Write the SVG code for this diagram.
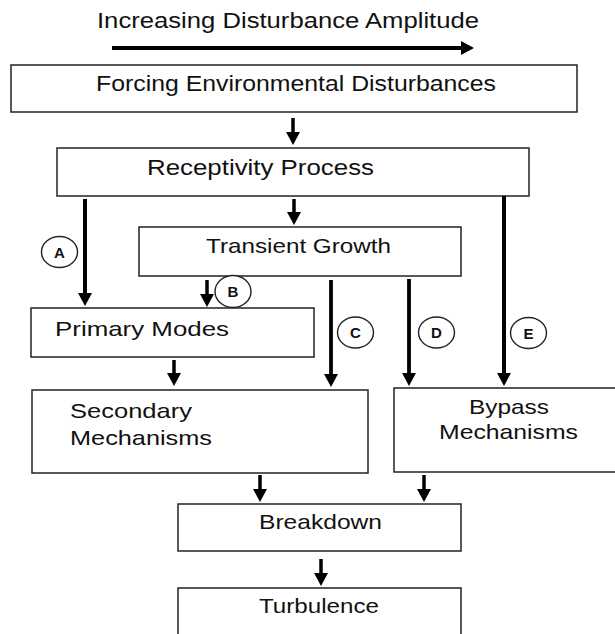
<svg xmlns="http://www.w3.org/2000/svg" width="615" height="634" viewBox="0 0 615 634">
<style>
.box{fill:#fff;stroke:#222;stroke-width:1.5}
.t{font-family:"Liberation Sans",Arial,sans-serif;font-size:21px;fill:#111}
.big{font-size:22px}
.ar{stroke:#000;stroke-width:3.5;fill:none;marker-end:url(#ah)}
.lb{fill:#fff;stroke:#222;stroke-width:1.4}
.lt{font-family:"Liberation Sans",Arial,sans-serif;font-size:15px;font-weight:bold;fill:#111;text-anchor:middle}
</style>
<defs>
<marker id="ah" markerUnits="userSpaceOnUse" markerWidth="15" markerHeight="15" refX="1" refY="7" orient="auto">
<path d="M0,0 L13,7 L0,14 z" fill="#000"/>
</marker>
</defs>
<rect width="615" height="634" fill="#fff"/>
<g id="title">
<text class="t big" x="97" y="28" textLength="382" lengthAdjust="spacingAndGlyphs">Increasing Disturbance Amplitude</text>
</g>
<g id="forcing">
<rect class="box" x="11" y="65" width="566" height="47"/>
<text class="t big" x="96" y="91" textLength="400" lengthAdjust="spacingAndGlyphs">Forcing Environmental Disturbances</text>
</g>
<g id="receptivity">
<rect class="box" x="57" y="148" width="472" height="48"/>
<text class="t big" x="147" y="175" textLength="227" lengthAdjust="spacingAndGlyphs">Receptivity Process</text>
</g>
<g id="transient">
<rect class="box" x="139" y="227" width="322" height="49"/>
<text class="t" x="206" y="253" textLength="185" lengthAdjust="spacingAndGlyphs">Transient Growth</text>
</g>
<g id="primary">
<rect class="box" x="31" y="308" width="283" height="49"/>
<text class="t" x="55" y="336" textLength="174" lengthAdjust="spacingAndGlyphs">Primary Modes</text>
</g>
<g id="secondary">
<rect class="box" x="32" y="390" width="336" height="83"/>
<text class="t" x="70" y="418" textLength="122" lengthAdjust="spacingAndGlyphs">Secondary</text>
<text class="t" x="70" y="445" textLength="142" lengthAdjust="spacingAndGlyphs">Mechanisms</text>
</g>
<g id="bypass">
<rect class="box" x="394" y="388" width="230" height="84"/>
<text class="t" x="469" y="414" textLength="80" lengthAdjust="spacingAndGlyphs">Bypass</text>
<text class="t" x="439" y="439" textLength="139" lengthAdjust="spacingAndGlyphs">Mechanisms</text>
</g>
<g id="breakdown">
<rect class="box" x="178" y="504" width="283" height="47"/>
<text class="t" x="259" y="529" textLength="123" lengthAdjust="spacingAndGlyphs">Breakdown</text>
</g>
<g id="turbulence">
<rect class="box" x="178" y="588" width="283" height="60"/>
<text class="t" x="259" y="613" textLength="120" lengthAdjust="spacingAndGlyphs">Turbulence</text>
</g>
<g id="connectors">
<line class="ar" x1="112" y1="48" x2="462" y2="48" style="stroke-width:4"/>
<line class="ar" x1="293" y1="118" x2="293" y2="133"/>
<line class="ar" x1="294" y1="199" x2="294" y2="213"/>
<line class="ar" x1="85" y1="199" x2="85" y2="294" style="stroke-width:4"/>
<line class="ar" x1="504" y1="196" x2="504" y2="374" style="stroke-width:4"/>
<line class="ar" x1="207" y1="280" x2="207" y2="295"/>
<line class="ar" x1="331" y1="280" x2="331" y2="375" style="stroke-width:3.8"/>
<line class="ar" x1="409" y1="279" x2="409" y2="374" style="stroke-width:3.8"/>
<line class="ar" x1="174" y1="360" x2="174" y2="374"/>
<line class="ar" x1="260" y1="475" x2="260" y2="490"/>
<line class="ar" x1="424" y1="475" x2="424" y2="490"/>
<line class="ar" x1="321" y1="559" x2="321" y2="574"/>
</g>
<g id="labels">
<g id="label-A"><ellipse class="lb" cx="59.5" cy="252" rx="18" ry="15.5"/><text class="lt" x="59.5" y="257.5">A</text></g>
<g id="label-B"><ellipse class="lb" cx="233" cy="291.5" rx="18" ry="16"/><text class="lt" x="233" y="297">B</text></g>
<g id="label-C"><ellipse class="lb" cx="355.5" cy="332.5" rx="18" ry="15.5"/><text class="lt" x="355.5" y="338">C</text></g>
<g id="label-D"><ellipse class="lb" cx="436.5" cy="332.5" rx="18" ry="15.5"/><text class="lt" x="436.5" y="338">D</text></g>
<g id="label-E"><ellipse class="lb" cx="528.5" cy="333" rx="18" ry="15.5"/><text class="lt" x="528.5" y="338.5">E</text></g>
</g>
</svg>
